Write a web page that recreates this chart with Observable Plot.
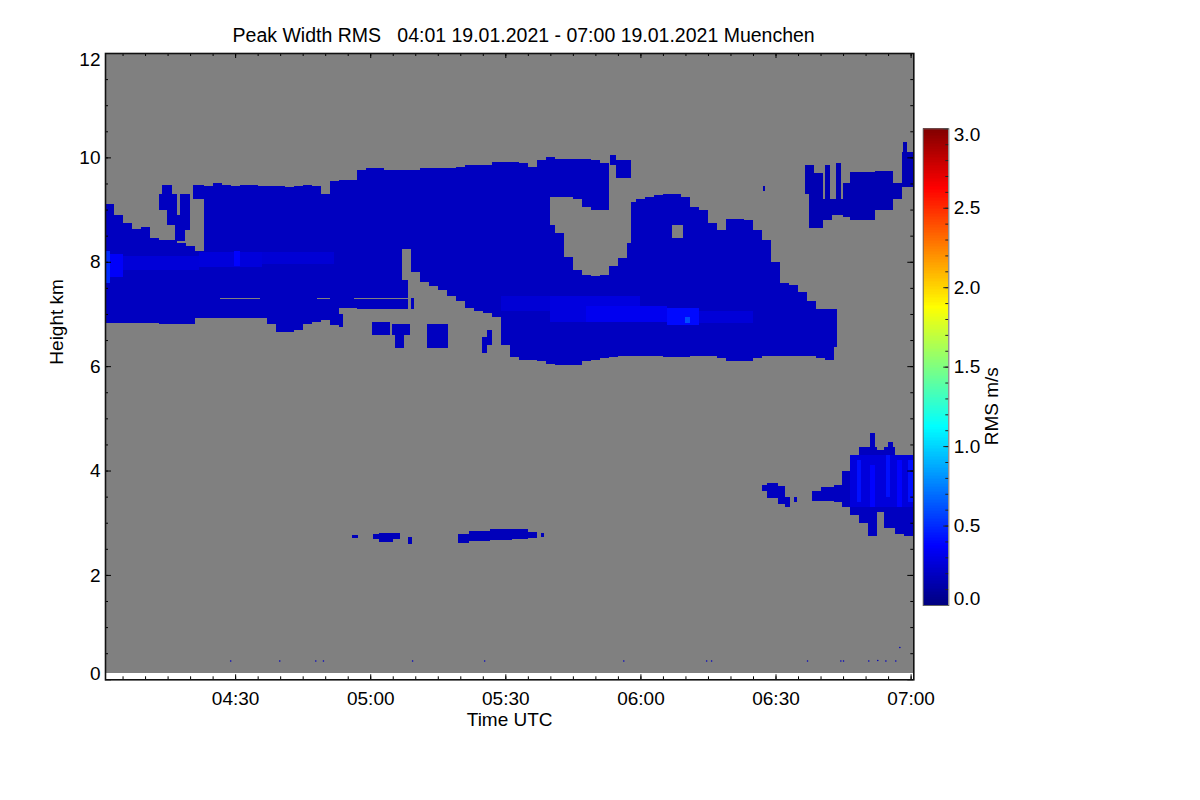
<!DOCTYPE html>
<html>
<head>
<meta charset="utf-8">
<script src="https://cdn.jsdelivr.net/npm/d3@7"></script>
<script src="https://cdn.jsdelivr.net/npm/@observablehq/plot@0.6"></script>
<style>
  html, body { margin: 0; padding: 0; background: #ffffff; }
  #wrap { position: relative; width: 1200px; height: 800px; overflow: hidden; }
  #main { position: absolute; left: 0; top: 0; }
  #bar { position: absolute; left: 900px; top: 100px; }
  svg text { white-space: pre; }
</style>
</head>
<body>
<div id="wrap"><div id="main"></div><div id="bar"></div></div>
<script>
// ---------------- DATA ----------------
// time in minutes after 04:00 UTC, height in km, values in m/s
const titleText = "Peak Width RMS   04:01 19.01.2021 - 07:00 19.01.2021 Muenchen";
const xLabel = "Time UTC";
const yLabel = "Height km";
const barLabel = "RMS m/s";

const timeStart = 1.1;      // 04:01
const timeEnd = 180.6;      // 07:00
const firstGateKm = 0.115;  // lowest range gate
const topKm = 12;

const xTickMinutes = [30, 60, 90, 120, 150, 180];
const xTickLabels = ["04:30", "05:00", "05:30", "06:00", "06:30", "07:00"];
const yTicks = [0, 2, 4, 6, 8, 10, 12];
const yTickLabels = ["0", "2", "4", "6", "8", "10", "12"];
const barTicks = [0, 0.5, 1, 1.5, 2, 2.5, 3];
const barTickLabels = ["0.0", "0.5", "1.0", "1.5", "2.0", "2.5", "3.0"];

// jet colour table stops
const jetDomain = [0, 0.375, 1.125, 1.875, 2.625, 3];
const jetColors = ["#000080", "#0000ff", "#00ffff", "#ffff00", "#ff0000", "#800000"];

// typical RMS of each echo group (m/s)
const rmsMain = 0.19;
const rmsUpperRight = 0.15;
const rmsLow = 0.17;

// main cirrus deck: [column start (2-min columns), base km, top km]
const mainCloud = [
  [1, 6.82, 9.1], [3, 6.82, 8.9], [5, 6.82, 8.75], [7, 6.82, 8.62], [9, 6.82, 8.67],
  [11, 6.82, 8.45], [13, 6.8, 8.42], [15, 6.8, 8.42], [17, 6.8, 8.35], [19, 6.8, 8.3],
  [21, 6.92, 8.2], [23, 6.93, 9.45], [25, 6.93, 9.5], [27, 6.93, 9.48], [29, 6.93, 9.45],
  [31, 6.93, 9.47], [33, 6.93, 9.47], [35, 6.93, 9.45], [37, 6.8, 9.45], [39, 6.66, 9.45],
  [41, 6.66, 9.43], [43, 6.7, 9.45], [45, 6.8, 9.47], [47, 6.85, 9.45], [49, 6.88, 9.3],
  [51, 6.78, 9.55], [53, 7.12, 9.56], [55, 7.12, 9.56], [57, 7.1, 9.75], [59, 7.1, 9.8],
  [61, 7.1, 9.8], [63, 7.1, 9.76], [65, 7.1, 9.76], [67, 8.25, 9.76], [69, 7.8, 9.76],
  [71, 7.62, 9.8], [73, 7.53, 9.8], [75, 7.45, 9.8], [77, 7.35, 9.8], [79, 7.25, 9.82],
  [81, 7.12, 9.85], [83, 7.05, 9.85], [85, 7.02, 9.85], [87, 6.95, 9.92], [89, 6.4, 9.92],
  [91, 6.18, 9.92], [93, 6.12, 9.9], [95, 6.12, 9.82], [97, 6.1, 9.95], [99, 6.04, 10.0],
  [101, 6.02, 8.55], [103, 6.02, 8.1], [105, 6.02, 7.85], [107, 6.1, 7.75], [109, 6.12, 7.72],
  [111, 6.16, 7.75], [113, 6.18, 7.92], [115, 6.2, 8.08], [117, 6.2, 8.35], [119, 6.2, 9.2],
  [121, 6.2, 9.25], [123, 6.2, 9.28], [125, 6.18, 9.3], [127, 6.18, 9.3], [129, 6.18, 9.25],
  [131, 6.2, 9.05], [133, 6.2, 9.0], [135, 6.2, 8.75], [137, 6.15, 8.6], [139, 6.1, 8.82],
  [141, 6.1, 8.82], [143, 6.1, 8.8], [145, 6.15, 8.6], [147, 6.2, 8.42], [149, 6.2, 8.0],
  [151, 6.2, 7.6], [153, 6.2, 7.55], [155, 6.2, 7.42], [157, 6.2, 7.25], [159, 6.15, 7.1],
  [161, 6.12, 7.1]
];
const columnMinutes = 2;

// further echo pieces of the deck: [t1, t2, base, top]
const extraCloud = [
  [13.2, 14.8, 9.0, 9.3], [13.7, 15.9, 9.25, 9.47], [14.8, 17.0, 8.7, 9.3],
  [16.7, 18.9, 8.4, 8.9], [17.8, 20.0, 8.6, 9.3], [20.7, 23.0, 9.2, 9.47],
  [53, 54, 6.75, 7.0], [67, 68.3, 7.1, 7.65], [69, 69.7, 7.1, 7.3],
  [101, 103, 9.25, 9.97], [103, 105, 9.25, 9.97], [105, 107, 9.2, 9.97],
  [107, 109, 9.05, 9.97], [109, 111, 9.0, 9.95], [111, 113, 9.0, 9.9],
  [113.3, 114.5, 9.85, 10.05], [114.5, 118, 9.6, 9.95], [118, 119, 8.35, 9.15],
  [60.4, 64.4, 6.6, 6.85], [64.9, 68.9, 6.6, 6.8], [65.5, 67.5, 6.35, 6.6],
  [72.6, 77.3, 6.35, 6.8], [84.9, 86, 6.25, 6.55], [86, 87.1, 6.4, 6.7],
  [163, 163.6, 6.37, 7.1]
];

// cirrus at the upper right: [t1, t2, base, top]
const upperRightCloud = [
  [156.6, 158.5, 9.3, 9.85], [157.5, 160.5, 8.65, 9.7], [160.5, 162.5, 8.8, 9.2],
  [161, 162, 9.2, 9.85], [162.5, 165, 8.9, 9.2], [163.5, 164.5, 9.2, 9.9],
  [165, 166.6, 8.85, 9.5], [166.6, 172, 8.8, 9.72], [172, 176, 9.0, 9.73],
  [176, 178, 9.2, 9.5], [178, 180.6, 9.43, 10.1], [178.3, 179.2, 10.1, 10.3],
  [147.2, 147.7, 9.35, 9.45]
];

// mid-level echoes (3-4.7 km) at the lower right: [t1, t2, base, top]
const lowerRightCloud = [
  [147, 148, 3.6, 3.72], [148, 150.5, 3.48, 3.77], [150.5, 152, 3.35, 3.7],
  [152, 153.3, 3.3, 3.5], [154, 154.8, 3.4, 3.5], [158.1, 160, 3.42, 3.6],
  [160, 163, 3.42, 3.68], [163, 165, 3.4, 3.73], [164.8, 166.5, 3.3, 4.0],
  [166.5, 168.5, 3.15, 4.2], [168.5, 170.5, 3.0, 4.45], [170.5, 172.5, 2.75, 4.45],
  [171, 172, 4.45, 4.72], [172.5, 174, 3.2, 4.4], [174, 176.5, 2.9, 4.45],
  [175, 176, 4.45, 4.55], [176.5, 178.5, 2.78, 4.3], [178.5, 180.6, 2.75, 4.3]
];

// thin layer near 2.7 km: [t1, t2, base, top]
const layer27 = [
  [56, 57.3, 2.7, 2.77], [60.6, 62, 2.68, 2.78], [62, 65, 2.63, 2.8],
  [65, 66.6, 2.68, 2.8], [68.4, 69.3, 2.6, 2.72], [79.5, 82, 2.62, 2.78],
  [82, 86.5, 2.65, 2.84], [86.5, 91.5, 2.67, 2.88], [91.5, 95, 2.68, 2.88],
  [95, 97, 2.7, 2.82], [98, 98.5, 2.72, 2.8]
];

// areas of higher RMS: [t1, t2, base, top, rms]
const brightPatches = [
  [1.1, 2.2, 7.6, 8.2, 0.5], [2.2, 5, 7.7, 8.15, 0.36], [5, 22, 7.85, 8.12, 0.26],
  [22, 36, 7.9, 8.18, 0.27], [29.8, 31, 7.92, 8.2, 0.38], [36, 52, 7.95, 8.18, 0.25],
  [89, 100, 7.05, 7.35, 0.25], [100, 120, 6.85, 7.35, 0.28], [108, 126, 6.85, 7.15, 0.33],
  [126, 133, 6.78, 7.12, 0.4], [130, 131, 6.82, 6.95, 0.6], [133, 145, 6.82, 7.05, 0.26],
  [166.5, 180.6, 3.3, 4.3, 0.27], [168, 169, 3.4, 4.2, 0.42], [171, 172, 3.3, 4.1, 0.38],
  [174.5, 175.5, 3.5, 4.3, 0.42], [177, 178, 3.3, 4.2, 0.38], [179.5, 180.5, 3.4, 4.2, 0.42]
];

// gaps without data inside echoes: [t1, t2, base, top]
const noData = [
  [26.7, 35.5, 7.285, 7.315], [48.2, 51, 7.285, 7.315], [56.5, 69, 7.28, 7.31],
  [100, 101, 8.7, 9.25], [127, 129.5, 8.45, 8.7]
];

// isolated clutter near the ground: [t, height km]
const groundClutter = [
  [28.9, 0.36], [39.8, 0.36], [47.8, 0.36], [49.5, 0.36], [69.3, 0.36], [85.3, 0.36],
  [116.2, 0.36], [134.6, 0.36], [135.7, 0.36], [157.0, 0.36], [164.4, 0.36], [165.0, 0.36],
  [170.6, 0.36], [172.6, 0.37], [174.4, 0.36], [176.6, 0.36], [177.5, 0.62]
];

// ---------------- LAYOUT ----------------
const W = 1200, H = 800;
const fLeft = 105, fRight = 913.3, fTop = 53, fBottom = 679.3;
const innerW = fRight - fLeft, innerH = fBottom - fTop;
const font = "'Liberation Sans', Arial, Helvetica, sans-serif";
const gray = "#808080";

const colorOpts = {type: "linear", domain: jetDomain, range: jetColors, interpolate: "rgb"};

const xMinor = d3.range(5, 181, 5);
const yMinor = d3.range(0.5, 12, 0.5);

const segRect = (data, fill) => Plot.rect(data, {
  x1: d => d[0], x2: d => d[1], y1: d => d[2], y2: d => d[3],
  fill, shapeRendering: "crispEdges", clip: true
});
const yFmt = d => yTickLabels[yTicks.indexOf(d)];
const barFmt = d => barTickLabels[barTicks.indexOf(d)];

const main = Plot.plot({
  width: W, height: H,
  marginLeft: fLeft, marginRight: W - fRight, marginTop: fTop, marginBottom: H - fBottom,
  x: {type: "linear", domain: [timeStart, timeEnd]},
  y: {type: "linear", domain: [0, topKm]},
  color: colorOpts,
  style: {fontFamily: font, fontSize: "19px", color: "#000", background: "transparent", overflow: "visible"},
  marks: [
    Plot.rect([0], {x1: timeStart, x2: timeEnd, y1: firstGateKm, y2: topKm, fill: gray, shapeRendering: "crispEdges"}),
    Plot.rect(mainCloud, {
      x1: d => d[0], x2: d => d[0] + columnMinutes, y1: d => d[1], y2: d => d[2],
      fill: () => rmsMain, shapeRendering: "crispEdges", clip: true
    }),
    segRect(extraCloud, () => rmsMain),
    segRect(upperRightCloud, () => rmsUpperRight),
    segRect(lowerRightCloud, () => rmsMain),
    segRect(layer27, () => rmsLow),
    segRect(brightPatches, d => d[4]),
    segRect(noData, gray),
    Plot.dot(groundClutter, {x: d => d[0], y: d => d[1], r: 0.8, fill: () => rmsMain, stroke: null}),
    // inward tick marks on all four sides
    Plot.tickX(xTickMinutes, {x: d => d, insetTop: innerH - 5, stroke: "#000"}),
    Plot.tickX(xMinor, {x: d => d, insetTop: innerH - 3, stroke: "#000"}),
    Plot.tickX(xTickMinutes, {x: d => d, insetBottom: innerH - 5, stroke: "#000"}),
    Plot.tickX(xMinor, {x: d => d, insetBottom: innerH - 3, stroke: "#000"}),
    Plot.tickY(yTicks, {y: d => d, insetRight: innerW - 6, stroke: "#000"}),
    Plot.tickY(yMinor, {y: d => d, insetRight: innerW - 3, stroke: "#000"}),
    Plot.tickY(yTicks, {y: d => d, insetLeft: innerW - 6, stroke: "#000"}),
    Plot.tickY(yMinor, {y: d => d, insetLeft: innerW - 3, stroke: "#000"}),
    Plot.frame({stroke: "#111", strokeWidth: 1.6}),
    Plot.axisX(xTickMinutes, {tickSize: 0, tickPadding: 12, label: null,
      tickFormat: d => xTickLabels[xTickMinutes.indexOf(d)], fontSize: 19}),
    Plot.axisY(yTicks.slice(1, -1), {tickSize: 0, tickPadding: 5, label: null, tickFormat: yFmt, fontSize: 19}),
    Plot.axisY([yTicks[0]], {tickSize: 0, tickPadding: 5, label: null, tickFormat: yFmt, fontSize: 19, dy: -6}),
    Plot.axisY([yTicks[yTicks.length - 1]], {tickSize: 0, tickPadding: 5, label: null, tickFormat: yFmt, fontSize: 19, dy: 6}),
    Plot.text([titleText], {text: d => d, frameAnchor: "top", lineAnchor: "bottom", dx: 14, dy: -12, fontSize: 19.5}),
    Plot.text([xLabel], {text: d => d, frameAnchor: "bottom", lineAnchor: "bottom", dy: 45.7, fontSize: 19}),
    Plot.text([yLabel], {text: d => d, frameAnchor: "left", lineAnchor: "bottom", rotate: -90, dx: -42.3, dy: -2, fontSize: 19})
  ]
});
document.getElementById("main").appendChild(main);

// ---------------- COLOUR BAR ----------------
const barW = 130, barH = 520;
const bLeft = 22.7, bRight = 48.3, bTop = 28.3, bBottom = 505;
const barLevels = d3.range(0, 3, 0.01);
const barMinor = d3.range(0, 3.001, 0.1);
const bar = Plot.plot({
  width: barW, height: barH,
  marginLeft: bLeft, marginRight: barW - bRight, marginTop: bTop, marginBottom: barH - bBottom,
  x: {domain: [0, 1], axis: null},
  y: {type: "linear", domain: [0, 3]},
  color: colorOpts,
  style: {fontFamily: font, fontSize: "19px", color: "#000", background: "transparent", overflow: "visible"},
  marks: [
    Plot.rect(barLevels, {x1: 0, x2: 1, y1: d => d, y2: d => d + 0.0101, fill: d => d + 0.005, shapeRendering: "crispEdges"}),
    Plot.tickY(barMinor, {y: d => d, insetLeft: (bRight - bLeft) - 3, stroke: "#222"}),
    Plot.tickY(barTicks, {y: d => d, insetLeft: (bRight - bLeft) - 5, stroke: "#222"}),
    Plot.frame({stroke: "#666", strokeWidth: 1}),
    Plot.axisY(barTicks.slice(1, -1), {anchor: "right", tickSize: 0, tickPadding: 5, label: null, tickFormat: barFmt, fontSize: 19}),
    Plot.axisY([barTicks[0]], {anchor: "right", tickSize: 0, tickPadding: 5, label: null, tickFormat: barFmt, fontSize: 19, dy: -7}),
    Plot.axisY([barTicks[barTicks.length - 1]], {anchor: "right", tickSize: 0, tickPadding: 5, label: null, tickFormat: barFmt, fontSize: 19, dy: 6}),
    Plot.text([barLabel], {text: d => d, frameAnchor: "right", lineAnchor: "bottom", rotate: -90, dx: 48.7, fontSize: 19})
  ]
});
document.getElementById("bar").appendChild(bar);
</script>
</body>
</html>
